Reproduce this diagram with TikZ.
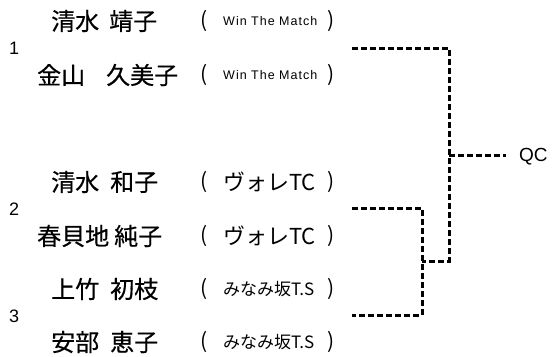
\documentclass[tikz,border=0pt]{standalone}
\usepackage{fontspec}
\setmainfont{Liberation Sans}
\newfontfamily\jpfont{Noto Sans CJK JP}
\newfontfamily\jpnamefont[FakeBold=0.5]{Noto Sans CJK JP}
\newfontfamily\matchfont[LetterSpace=8]{Liberation Sans}
\usetikzlibrary{positioning}

\newcommand\clubWin{{\matchfont\fontsize{12.5}{13}\selectfont Win The Match}}
\newcommand\clubVole{{\jpfont\fontsize{22}{23}\selectfont ヴォレTC}}
\newcommand\clubMinami{{\jpfont\fontsize{17}{18}\selectfont みなみ坂T.S}}

\begin{document}
\begin{tikzpicture}[
        x=1pt, y=-1pt,
        person/.style={anchor=west, inner sep=0pt, font=\jpnamefont\fontsize{24}{25}\selectfont},
        paren/.style={anchor=west, inner sep=0pt, font=\jpfont\fontsize{21}{22}\selectfont},
        club/.style={anchor=west, inner sep=0pt},
        seed/.style={anchor=west, inner sep=0pt, font=\fontsize{18}{19}\selectfont},
        bracket/.style={line width=3pt, dash pattern=on 6pt off 3pt}
    ]
        \useasboundingbox (0,0) rectangle (553,356);

        % Players: family name, given name, club in brackets
        \foreach \y/\fam/\fx/\giv/\gx/\cl [count=\i] in {
            21/清水/51/靖子/109/\clubWin,
            75/金山/37/久美子/106/\clubWin,
            182/清水/51/和子/110/\clubVole,
            236/春貝地/37/純子/114/\clubVole,
            289/上竹/51/初枝/110/\clubMinami,
            342/安部/51/恵子/110/\clubMinami} {
            \node[person] (fam\i) at (\fx,\y) {\fam};
            \node[person] (giv\i) at (\gx,\y) {\giv};
            \node[paren] (po\i) at (200,\y) {(};
            \node[club] (club\i) at (223,\y) {\cl};
            \node[paren] (pc\i) at (327,\y) {)};
        }

        % Pair numbers
        \foreach \y/\n in {48/1,209/2,316/3} {
            \node[seed] (seed\n) at (9,\y) {\n};
        }

        % Bracket
        \coordinate (s1) at (352,48);
        \coordinate (s2) at (352,208);
        \coordinate (s3) at (352,315);
        \coordinate (r23) at (422,261);
        \coordinate (rf) at (449,155);
        \node[anchor=west, inner sep=0pt, font=\fontsize{19}{20}\selectfont] (qc) at (519,157) {QC};

        \draw[bracket] (s2) -| (r23) |- (s3);
        \draw[bracket] (s1) -| (rf |- r23) -- (r23);
        \draw[bracket] (rf) -- ([xshift=-13pt]qc.west |- rf);
    \end{tikzpicture}
\end{document}
